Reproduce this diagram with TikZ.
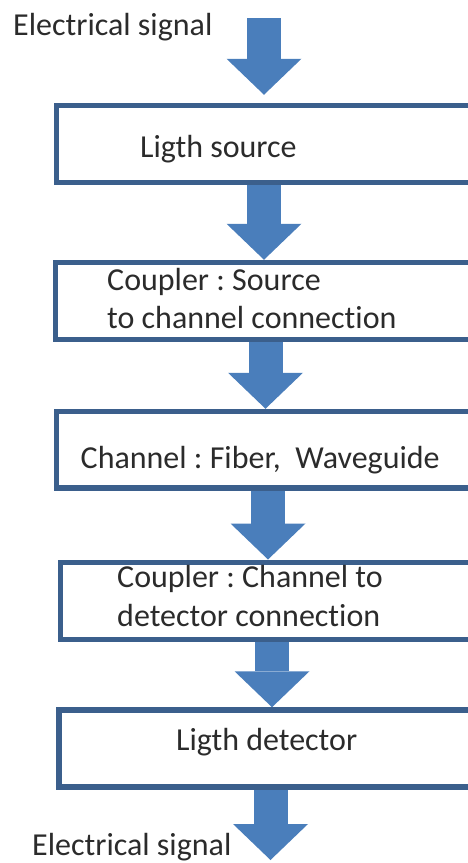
\documentclass[tikz,border=0pt]{standalone}
\usepackage{fontspec}
\setmainfont{Carlito}[Ligatures=NoCommon]
\usetikzlibrary{arrows.meta}
\definecolor{arrowblue}{HTML}{4A7EBB}
\definecolor{boxblue}{HTML}{3B5F8C}
\definecolor{textgray}{HTML}{2B2B2B}
\frenchspacing

\begin{document}
\begin{tikzpicture}[x=1pt, y=-1pt,
    stage/.style={draw=boxblue, line width=5.5pt, rectangle, inner sep=0pt, minimum height=77pt},
    flow/.style={line width=34pt, arrowblue, -{Triangle[length=36pt, width=75pt, line width=0pt]}},
    txt/.style={anchor=base west, text=textgray, inner sep=0pt, font=\fontsize{32}{39}\selectfont}]

    % Cadre
    \useasboundingbox (0,0) rectangle (468,863);
    \clip (0,0) rectangle (468,863);

    % Blocs
    \node[stage, minimum width=415pt] (source) at (264,144) {};
    \node[stage, minimum width=420pt] (coupleur1) at (265.5,301) {};
    \node[stage, minimum width=423pt, minimum height=76.5pt] (canal) at (268,449.75) {};
    \node[stage, minimum width=423pt] (coupleur2) at (272,600.75) {};
    \node[stage, minimum width=423pt] (detecteur) at (270.5,748.5) {};

    % Entree et sortie
    \coordinate (entree) at (264,18);
    \coordinate (sortie) at (270.5,860);

    % Textes
    \node[txt] (lentree) at (13,35) {Electrical signal};
    \node[txt] (lsource) at (140,157) {Ligth source};
    \node[txt] (lcoupleur1a) at (107,290) {Coupler : Source};
    \node[txt] (lcoupleur1b) at (107,328) {to channel connection};
    \node[txt] (lcanal) at (80.5,468) {Channel : Fiber,\ \ Waveguide};
    \node[txt] (lcoupleur2a) at (117,587) {Coupler : Channel to};
    \node[txt] (lcoupleur2b) at (117,626) {detector connection};
    \node[txt] (ldetecteur) at (176,750.5) {Ligth detector};
    \node[txt] (lsortie) at (32,855) {Electrical signal};

    % Fleches
    \draw[flow, shorten >=8pt] (entree) -- (entree |- source.north);
    \draw[flow] (source.south) -- (source.south |- coupleur1.north);
    \draw[flow] (coupleur1.south) -- (coupleur1.south |- canal.north);
    \draw[flow] (canal.south) -- (canal.south |- coupleur2.north);
    \draw[flow] (coupleur2.south) -- (coupleur2.south |- detecteur.north);
    \draw[flow] (detecteur.south) -- (sortie);
\end{tikzpicture}
\end{document}
